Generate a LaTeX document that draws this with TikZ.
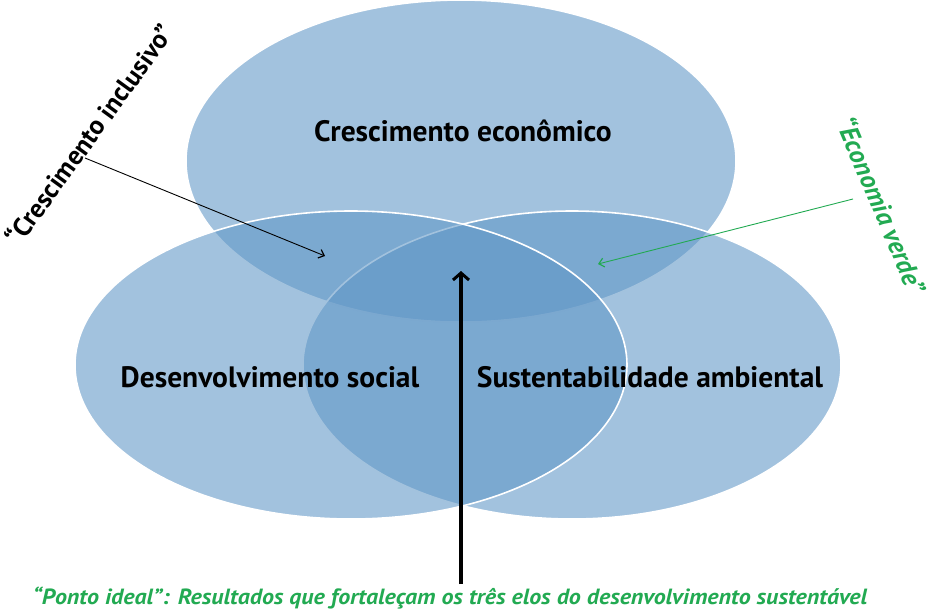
\documentclass[tikz,border=0pt]{standalone}
\usepackage{fontspec}
\setmainfont{PT Sans}
\newfontfamily\condfont[FakeStretch=1.09]{PT Sans}
\usetikzlibrary{arrows.meta,shapes.geometric}
\definecolor{blobblue}{RGB}{95,150,198}
\definecolor{greentext}{RGB}{34,170,82}
\tikzset{
  blob/.style={ellipse, draw=white, line width=1.6pt, fill=blobblue, fill opacity=0.58, draw opacity=1, inner sep=0pt},
  biglabel/.style={font=\bfseries\fontsize{29.5}{32}\selectfont, text=black, inner sep=0pt},
  sidelabel/.style={font=\bfseries\fontsize{26.5}{30}\selectfont, inner sep=0pt},
  thinarrow/.style={-{Straight Barb[length=5pt,width=9pt,line width=1.2pt]}, line width=0.9pt},
}
\begin{document}
\begin{tikzpicture}[x=1pt,y=-1pt]
\useasboundingbox (0,0) rectangle (927,611);
% ellipses
\node[blob, minimum width=550, minimum height=322] (econ) at (461,161) {};
\node[blob, minimum width=538, minimum height=308] (amb) at (572,365) {};
\node[blob, minimum width=552, minimum height=308] (soc) at (351,365) {};
% labels
\node[biglabel] (teco) at (463,131) {Crescimento econômico};
\node[biglabel] (tsoc) at (270,377) {Desenvolvimento social};
\node[biglabel] (tamb) at (650,377) {Sustentabilidade ambiental};
% side labels
\node[sidelabel, rotate=54, text=black] (cinc) at (89,134) {“Crescimento inclusivo”};
\node[sidelabel, rotate=-67, text=greentext] (ever) at (882,205) {\itshape “Economia verde”};
% bottom label
\node[inner sep=0pt, text=greentext, font=\condfont\bfseries\itshape\fontsize{22}{24}\selectfont] (ideal) at (450,598) {“Ponto ideal”: Resultados que fortaleçam os três elos do desenvolvimento sustentável};
% arrow anchors
\coordinate (cinA) at (85,158);
\coordinate (cinB) at (325,256);
\coordinate (ecvA) at (853,199);
\coordinate (ecvB) at (598,264);
\coordinate (ptA) at (461,584);
\coordinate (ptB) at (461,271);
\draw[thinarrow, black] (cinA) -- (cinB);
\draw[thinarrow, greentext] (ecvA) -- (ecvB);
\draw[line width=4.5pt, -{Straight Barb[length=7pt,width=16pt,line width=3pt]}] (ptA) -- (ptB);
\end{tikzpicture}
\end{document}
